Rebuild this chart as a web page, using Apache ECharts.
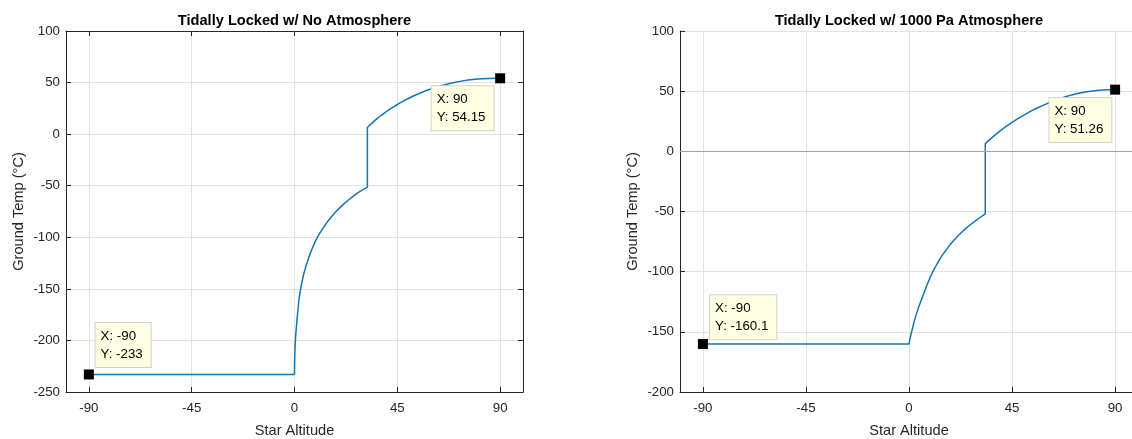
<!DOCTYPE html>
<html><head><meta charset="utf-8">
<script src="https://cdn.jsdelivr.net/npm/echarts@6/dist/echarts.min.js"></script>
<style>html,body{margin:0;padding:0;background:#fff}#c{width:1132px;height:439px}</style>
</head><body><div id="c"></div>
<script>
const titles = ['Tidally Locked w/ No Atmosphere', 'Tidally Locked w/ 1000 Pa Atmosphere'];
const xName = 'Star Altitude';
const yName = 'Ground Temp (°C)';
const xTicks = [-90, -45, 0, 45, 90];

// Left panel: no atmosphere
const noAtmX = [-90, 0, 0.05, 0.15, 0.3, 0.5, 0.75, 1, 1.5, 2, 2.5, 3, 4, 5, 6, 7, 8, 9, 10, 11, 12, 13, 14, 15, 16, 18, 20, 22, 24, 26, 28, 30, 31.9,
  31.9, 33, 34, 35, 36, 37, 38, 40, 42, 44, 46, 48, 50, 52, 55, 58, 61, 64, 67, 70, 73, 76, 79, 82, 85, 88, 90];
const noAtmY = [-233, -233, -222, -212, -203, -196, -189, -182.5, -170.5, -160, -152.5, -146, -136, -128, -121, -115, -109.5, -104.5, -100, -96.3, -92.8, -89.5, -86.3, -83.3, -80.5, -75.5, -71, -66.9, -63.1, -59.6, -56.5, -53.7, -51.3,
  6.5, 8.8, 10.9, 12.9, 14.8, 16.6, 18.3, 21.5, 24.5, 27.3, 30, 32.5, 34.8, 37, 39.9, 42.5, 44.8, 46.8, 48.6, 50.1, 51.4, 52.4, 53.2, 53.7, 54, 54.12, 54.15];
const noAtmTips = [[-90, -233], [90, 54.15]];

// Right panel: 1000 Pa atmosphere
const atmX = [-90, 0, 0.4, 1, 1.6, 2.4, 3.2, 4.2, 5.5, 7, 8.2, 9.4, 10.8, 12.4, 14.2, 16, 18, 20.5, 23, 25, 26.8, 29, 31, 33.3,
  33.3, 35, 37, 39.4, 42, 44.5, 47.2, 50, 53, 56, 59, 62, 65, 68, 71, 74, 77, 80, 83, 86, 88, 90];
const atmY = [-160.1, -160.1, -156, -151, -146.5, -140.5, -135.5, -129.5, -123, -115.5, -109.5, -104, -98.5, -93, -87.3, -82.5, -77.5, -72, -67.3, -63.8, -61, -57.8, -55, -52,
  6.4, 9.3, 12.6, 16.4, 20.2, 23.5, 26.8, 29.9, 33.2, 36, 38.6, 41, 43.2, 45.2, 46.9, 48.3, 49.4, 50.2, 50.8, 51.1, 51.22, 51.26];
const atmTips = [[-90, -160.1], [90, 51.26]];
const atmZeroLine = 0;

const FONT = '"Liberation Sans", Arial, Helvetica, sans-serif';
const AX = '#262626';
const GRIDC = '#e2e2e2';
const LINEC = '#1574b4';
const zip = (xs, ys) => xs.map((x, i) => [x, ys[i]]);

function bottomX(gi) {
  return {
    type: 'value', gridIndex: gi, min: -100, max: 100, position: 'bottom',
    name: xName, nameLocation: 'middle', nameGap: 31,
    nameTextStyle: {fontSize: 14.6, color: AX, fontFamily: FONT},
    axisLine: {show: true, onZero: false, lineStyle: {color: AX, width: 1}},
    axisTick: {show: true, inside: true, length: 5, customValues: xTicks, lineStyle: {color: AX}},
    axisLabel: {customValues: xTicks, fontSize: 13.3, color: AX, margin: 10, fontFamily: FONT},
    splitLine: {show: true, lineStyle: {color: GRIDC, width: 1}}
  };
}
function leftY(gi, min, max) {
  return {
    type: 'value', gridIndex: gi, min: min, max: max, interval: 50, position: 'left',
    name: yName, nameLocation: 'middle', nameGap: 40,
    nameTextStyle: {fontSize: 14.6, color: AX, fontFamily: FONT},
    axisLine: {show: true, onZero: false, lineStyle: {color: AX, width: 1}},
    axisTick: {show: true, inside: true, length: 5, lineStyle: {color: AX}},
    axisLabel: {fontSize: 13.3, color: AX, margin: 6, fontFamily: FONT},
    splitLine: {show: true, lineStyle: {color: GRIDC, width: 1}}
  };
}
const tipText = {align: 'left', fontSize: 13.3, lineHeight: 18, color: '#000', fontFamily: FONT};
const tipLabel = {
  show: true,
  formatter: p => '{t|X: ' + p.value[0] + '}\n{t|Y: ' + p.value[1] + '}',
  rich: {t: tipText},
  fontSize: 13.3, lineHeight: 18, color: '#000', fontFamily: FONT,
  backgroundColor: '#ffffe3', borderColor: '#d3d3c4', borderWidth: 1,
  padding: [4, 8, 4, 5]
};
function tipSeries(xi, yi, tips, pos) {
  return {
    type: 'scatter', xAxisIndex: xi, yAxisIndex: yi, symbol: 'rect', symbolSize: 10,
    itemStyle: {color: '#000', opacity: 1}, z: 10, silent: true, clip: false,
    label: tipLabel,
    data: tips.map((t, i) => ({value: t, label: pos[i]}))
  };
}

const option = {
  animation: false,
  backgroundColor: '#fff',
  title: [
    {text: titles[0], left: 294.5, top: 13, textAlign: 'center', padding: 0,
     textStyle: {fontSize: 14.6, fontWeight: 'bold', color: '#000', fontFamily: FONT}},
    {text: titles[1], left: 909, top: 13, textAlign: 'center', padding: 0,
     textStyle: {fontSize: 14.6, fontWeight: 'bold', color: '#000', fontFamily: FONT}}
  ],
  grid: [
    {left: 66, top: 31, width: 457, height: 361, outerBoundsMode: 'none', containLabel: false},
    {left: 680, top: 31, width: 458, height: 361, outerBoundsMode: 'none', containLabel: false}
  ],
  xAxis: [
    bottomX(0),
    {type: 'value', gridIndex: 0, min: -100, max: 100, position: 'top',
     axisLine: {show: true, onZero: false, lineStyle: {color: AX, width: 1}},
     axisTick: {show: true, inside: true, length: 5, customValues: xTicks, lineStyle: {color: AX}},
     axisLabel: {show: false}, splitLine: {show: false}},
    bottomX(1)
  ],
  yAxis: [
    leftY(0, -250, 100),
    {type: 'value', gridIndex: 0, min: -250, max: 100, interval: 50, position: 'right',
     axisLine: {show: true, onZero: false, lineStyle: {color: AX, width: 1}},
     axisTick: {show: true, inside: true, length: 5, lineStyle: {color: AX}},
     axisLabel: {show: false}, splitLine: {show: false}},
    leftY(1, -200, 100)
  ],
  series: [
    {type: 'line', xAxisIndex: 0, yAxisIndex: 0, data: zip(noAtmX, noAtmY),
     showSymbol: false, symbol: 'none', lineStyle: {color: LINEC, width: 1.5}, z: 3},
    {type: 'line', xAxisIndex: 2, yAxisIndex: 2, data: zip(atmX, atmY),
     showSymbol: false, symbol: 'none', lineStyle: {color: LINEC, width: 1.5}, z: 3,
     markLine: {silent: true, symbol: 'none', label: {show: false},
       lineStyle: {color: '#a3a3a3', type: 'solid', width: 1},
       data: [{yAxis: atmZeroLine}]}},
    tipSeries(0, 0, noAtmTips, [
      {position: [11.7, -2.4], align: 'left', verticalAlign: 'bottom'},
      {position: [-1.7, 13], align: 'right', verticalAlign: 'top'}
    ]),
    tipSeries(2, 2, atmTips, [
      {position: [12.2, 0.3], align: 'left', verticalAlign: 'bottom'},
      {position: [1.2, 13.4], align: 'right', verticalAlign: 'top'}
    ])
  ]
};
const chart = echarts.init(document.getElementById('c'), null, {renderer: 'canvas'});
chart.setOption(option);
</script></body></html>
